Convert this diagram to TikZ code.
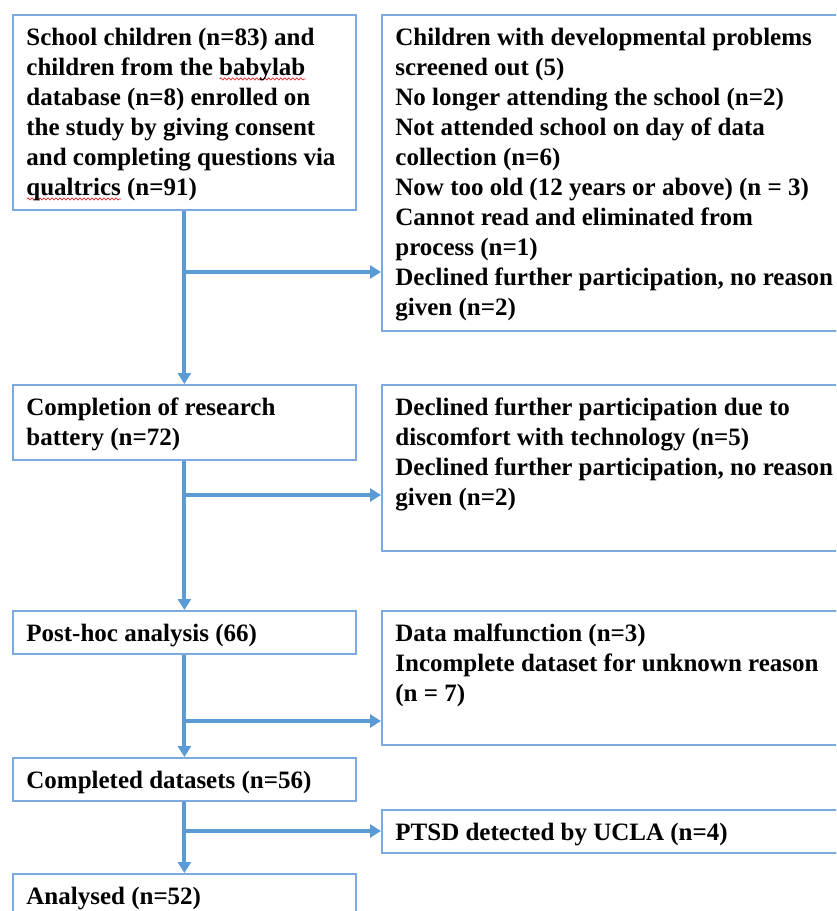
\documentclass[tikz,border=0pt]{standalone}
\usepackage{fontspec}
\setmainfont{Liberation Serif}
\usetikzlibrary{arrows.meta,decorations.pathmorphing}
\definecolor{lineblue}{RGB}{91,155,213}
\definecolor{boxblue}{RGB}{125,170,222}
\definecolor{spellred}{RGB}{225,40,40}
\newsavebox\swbox
\newcommand\spellwave[1]{\sbox\swbox{#1}\makebox[0pt][l]{\raisebox{-3.5pt}{\smash{\tikz[baseline=0pt,x=1pt,y=1pt]\draw[spellred,line width=0.7pt,decorate,decoration={snake,segment length=4pt,amplitude=1.1pt}] (0,0) -- (\the\wd\swbox,0);}}}\usebox\swbox}
\newcommand\boxtext[3]{\parbox[t][#1][t]{#2}{\strut #3}}
\begin{document}
\begin{tikzpicture}[x=1pt,y=1pt,
  font=\fontsize{25}{30}\selectfont\bfseries,
  box/.style={draw=boxblue, line width=1.8pt, rectangle, anchor=north west,
    inner xsep=13.5pt, inner ysep=9.5pt},
  conn/.style={draw=lineblue, line width=4pt, -{Triangle[length=11pt,width=13pt]}}]
\useasboundingbox (0,0) rectangle (836,-911);
\clip (0,0) rectangle (836,-911);

\node[box] (b1) at (12,-14) {\boxtext{176pt}{316pt}{%
\mbox{School children (n=83) and}\\
\mbox{children from the \spellwave{babylab}}\\
\mbox{database (n=8) enrolled on}\\
\mbox{the study by giving consent}\\
\mbox{and completing questions via}\\
\mbox{\spellwave{qualtrics} (n=91)}}};

\node[box] (b2) at (381,-14) {\boxtext{297pt}{452pt}{%
\mbox{Children with developmental problems}\\
\mbox{screened out (5)}\\
\mbox{No longer attending the school (n=2)}\\
\mbox{Not attended school on day of data}\\
\mbox{collection (n=6)}\\
\mbox{Now too old (12 years or above) (n = 3)}\\
\mbox{Cannot read and eliminated from}\\
\mbox{process (n=1)}\\
\mbox{Declined further participation, no reason}\\
\mbox{given (n=2)}}};

\node[box] (b3) at (12,-384) {\boxtext{56pt}{316pt}{%
\mbox{Completion of research}\\
\mbox{battery (n=72)}}};

\node[box] (b4) at (381,-384) {\boxtext{147pt}{452pt}{%
\mbox{Declined further participation due to}\\
\mbox{discomfort with technology (n=5)}\\
\mbox{Declined further participation, no reason}\\
\mbox{given (n=2)}}};

\node[box] (b5) at (12,-610) {\boxtext{24pt}{316pt}{%
\mbox{Post-hoc analysis (66)}}};

\node[box] (b6) at (381,-610) {\boxtext{115pt}{452pt}{%
\mbox{Data malfunction (n=3)}\\
\mbox{Incomplete dataset for unknown reason}\\
\mbox{(n = 7)}}};

\node[box] (b7) at (12,-757) {\boxtext{24pt}{316pt}{%
\mbox{Completed datasets (n=56)}}};

\node[box] (b8) at (381,-809) {\boxtext{24pt}{452pt}{%
\mbox{PTSD detected by UCLA (n=4)}}};

\node[box] (b9) at (12,-873) {\boxtext{51pt}{316pt}{%
\mbox{Analysed (n=52)}}};

\coordinate (j1) at (183.5,-272);
\coordinate (j2) at (183.5,-495);
\coordinate (j3) at (183.5,-721);
\coordinate (j4) at (183.5,-831);

\draw[conn] (b1.south) -- (b3.north);
\draw[conn] (j1) -- (j1 -| b2.west);
\draw[conn] (b3.south) -- (b5.north);
\draw[conn] (j2) -- (j2 -| b4.west);
\draw[conn] (b5.south) -- (b7.north);
\draw[conn] (j3) -- (j3 -| b6.west);
\draw[conn] (b7.south) -- (b9.north);
\draw[conn] (j4) -- (j4 -| b8.west);
\end{tikzpicture}
\end{document}
